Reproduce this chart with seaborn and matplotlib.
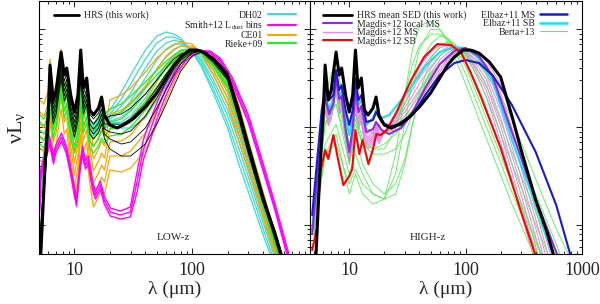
import numpy as np
import matplotlib
matplotlib.use("Agg")
import matplotlib.pyplot as plt
from matplotlib.lines import Line2D
from matplotlib.ticker import FixedLocator, NullFormatter, LogLocator
import seaborn as sns

sns.set_style("ticks")
plt.rcParams['font.family'] = ['Liberation Serif', 'DejaVu Serif']
plt.rcParams['mathtext.fontset'] = 'custom'
plt.rcParams['mathtext.rm'] = 'Liberation Serif'
plt.rcParams['mathtext.it'] = 'Liberation Serif:italic'

# all SED values are log(nu L_nu) with an arbitrary offset, wavelengths in micron
# HRS mean SED (both panels)
hrs_lam = [5.0, 5.2, 5.6, 6.0, 6.2, 6.6, 7.0, 7.7, 8.2, 8.6, 9.3, 10.0, 10.7, 11.3, 11.9, 12.7, 13.5, 14.5, 16.0, 17.0,
           18.0, 20, 23, 27, 32, 40, 50, 60, 70, 80, 95, 110, 130, 160, 200, 250, 300, 400, 500, 600]
hrs_val = [-0.3, 0.04, 0.84, 1.44, 1.89, 1.54, 1.64, 2.02, 1.79, 1.86, 1.59, 1.42, 1.59, 2.04, 1.66, 1.76, 1.44, 1.39, 1.46, 1.57,
           1.39, 1.29, 1.26, 1.30, 1.36, 1.47, 1.61, 1.76, 1.89, 1.97, 2.04, 2.04, 2.01, 1.92, 1.77, 1.38, 1.04, 0.54, 0.22, -0.1]

# shared wavelength grids for template families
mir_lam = [5, 5.5, 6.0, 6.2, 6.6, 7.0, 7.7, 8.2, 8.6, 9.3, 10, 10.7, 11.3, 11.9, 12.7, 13.5, 14.5, 16, 17, 18]
fir_lam = [20, 25, 30, 40, 50, 60, 70, 80, 100, 120, 150, 200, 250, 300, 400, 500, 600, 700]
fir_lam2 = [20, 25, 30, 40, 50, 60, 70, 80, 100, 120, 150, 200, 300, 400, 500, 600, 800, 1000]

# HRS individual galaxies (thin black)
hrs_thin_mir = [0.0, 0.7, 1.35, 1.75, 1.45, 1.55, 1.90, 1.68, 1.75, 1.48, 1.32, 1.48, 1.90, 1.55, 1.65, 1.35, 1.30, 1.36, 1.45, 1.30]
hrs_thin_off = [0.05, 0.0, -0.05, -0.1, -0.15]
hrs_thin_fir = [
    [1.38, 1.40, 1.46, 1.60, 1.74, 1.86, 1.95, 2.00, 2.04, 2.02, 1.92, 1.74, 1.38, 1.04, 0.52, 0.16, -0.14, -0.4],
    [1.30, 1.30, 1.35, 1.50, 1.66, 1.80, 1.90, 1.97, 2.03, 2.02, 1.94, 1.76, 1.40, 1.06, 0.54, 0.18, -0.12, -0.38],
    [1.22, 1.20, 1.23, 1.38, 1.56, 1.72, 1.85, 1.94, 2.02, 2.03, 1.95, 1.78, 1.42, 1.08, 0.56, 0.20, -0.10, -0.36],
    [1.15, 1.10, 1.12, 1.26, 1.46, 1.64, 1.79, 1.90, 2.01, 2.03, 1.96, 1.80, 1.44, 1.10, 0.58, 0.22, -0.08, -0.34],
    [1.05, 0.98, 0.98, 1.10, 1.30, 1.50, 1.68, 1.83, 1.98, 2.02, 1.97, 1.82, 1.46, 1.12, 0.60, 0.24, -0.06, -0.32],
]

# DH02
dh_mir = [0.45, 0.95, 1.25, 1.65, 1.35, 1.45, 1.82, 1.60, 1.65, 1.38, 1.22, 1.38, 1.80, 1.45, 1.55, 1.25, 1.22, 1.30, 1.38, 1.32]
dh_off = [0.08, 0.06, 0.04, 0.02, 0.0, -0.02, -0.04, -0.06]
dh_fir = [
    [1.44, 1.62, 1.79, 2.04, 2.18, 2.22, 2.20, 2.16, 2.02, 1.87, 1.62, 1.26, 0.89, 0.62, 0.19, -0.12, -0.40, -0.65],
    [1.40, 1.55, 1.70, 1.95, 2.11, 2.17, 2.17, 2.14, 2.03, 1.89, 1.66, 1.31, 0.97, 0.70, 0.25, -0.08, -0.35, -0.60],
    [1.37, 1.48, 1.61, 1.86, 2.03, 2.11, 2.14, 2.12, 2.04, 1.92, 1.71, 1.38, 1.05, 0.77, 0.31, -0.03, -0.30, -0.55],
    [1.35, 1.42, 1.53, 1.76, 1.94, 2.05, 2.10, 2.10, 2.05, 1.94, 1.75, 1.44, 1.12, 0.83, 0.36, 0.01, -0.27, -0.50],
    [1.33, 1.37, 1.45, 1.66, 1.85, 1.98, 2.05, 2.08, 2.06, 1.97, 1.80, 1.50, 1.18, 0.88, 0.40, 0.04, -0.24, -0.47],
    [1.31, 1.32, 1.38, 1.56, 1.75, 1.90, 1.99, 2.04, 2.06, 2.00, 1.85, 1.56, 1.24, 0.93, 0.43, 0.06, -0.22, -0.45],
    [1.30, 1.29, 1.31, 1.46, 1.65, 1.80, 1.92, 2.00, 2.05, 2.02, 1.90, 1.61, 1.27, 0.96, 0.45, 0.07, -0.21, -0.44],
    [1.29, 1.26, 1.26, 1.36, 1.54, 1.69, 1.84, 1.94, 2.04, 2.04, 1.94, 1.66, 1.30, 0.98, 0.46, 0.08, -0.20, -0.43],
]

# CE01
ce_mir = [1.30, 1.25, 1.38, 1.70, 1.35, 1.45, 1.80, 1.55, 1.60, 1.20, 0.90, 1.10, 1.55, 1.25, 1.35, 1.05, 0.82, 0.92, 1.00, 0.95]
ce_off = [0.25, 0.13, 0.01, -0.11, -0.23, -0.35]
ce_fir = [
    [1.54, 1.59, 1.66, 1.82, 1.96, 2.04, 2.09, 2.12, 2.10, 2.00, 1.80, 1.50, 1.12, 0.84, 0.37, 0.00, -0.30, -0.55],
    [1.40, 1.44, 1.51, 1.68, 1.85, 1.97, 2.04, 2.08, 2.08, 2.01, 1.84, 1.56, 1.20, 0.92, 0.43, 0.05, -0.25, -0.50],
    [1.26, 1.28, 1.35, 1.53, 1.72, 1.87, 1.97, 2.03, 2.06, 2.02, 1.88, 1.62, 1.28, 0.98, 0.49, 0.10, -0.20, -0.45],
    [1.12, 1.13, 1.19, 1.38, 1.59, 1.76, 1.89, 1.97, 2.04, 2.03, 1.92, 1.68, 1.35, 1.04, 0.54, 0.14, -0.16, -0.42],
    [0.98, 0.98, 1.03, 1.21, 1.44, 1.65, 1.81, 1.92, 2.02, 2.03, 1.95, 1.75, 1.42, 1.09, 0.58, 0.18, -0.12, -0.38],
    [0.84, 0.82, 0.86, 1.04, 1.29, 1.54, 1.72, 1.86, 1.99, 2.02, 1.98, 1.82, 1.48, 1.14, 0.62, 0.22, -0.08, -0.34],
]

# Rieke+09
rk_mir = [1.25, 1.20, 1.30, 1.62, 1.30, 1.42, 1.75, 1.50, 1.58, 1.30, 1.15, 1.28, 1.65, 1.35, 1.45, 1.20, 1.15, 1.22, 1.30, 1.25]
rk_off = [0.15, 0.08, 0.0, -0.07, -0.14]
rk_fir = [
    [1.45, 1.50, 1.58, 1.72, 1.84, 1.93, 1.99, 2.03, 2.05, 2.00, 1.88, 1.66, 1.32, 1.00, 0.48, 0.10, -0.20, -0.45],
    [1.38, 1.42, 1.50, 1.66, 1.79, 1.89, 1.96, 2.01, 2.04, 2.01, 1.90, 1.69, 1.36, 1.03, 0.51, 0.12, -0.18, -0.43],
    [1.32, 1.35, 1.43, 1.60, 1.74, 1.85, 1.93, 1.99, 2.04, 2.02, 1.92, 1.72, 1.39, 1.06, 0.54, 0.15, -0.15, -0.40],
    [1.25, 1.28, 1.36, 1.52, 1.67, 1.80, 1.89, 1.96, 2.03, 2.02, 1.93, 1.74, 1.42, 1.09, 0.57, 0.17, -0.13, -0.38],
    [1.18, 1.20, 1.27, 1.44, 1.60, 1.74, 1.85, 1.93, 2.02, 2.03, 1.95, 1.77, 1.45, 1.12, 0.60, 0.20, -0.10, -0.35],
]

# Smith+12 L_dust bins
smith_lam = [5.0, 5.15, 6.14, 6.64, 6.9, 7.76, 8.55, 9.25, 10.4, 11.2, 11.7, 12.4, 13.1, 14.2, 15.1, 16.6, 17.9, 20.2,
             24.5, 29.8, 34, 38.4, 44, 50.5, 59, 72, 87, 117, 142, 173, 218, 300, 370, 500, 676, 800]
smith_val = [
    [0.36, 0.84, 1.18, 0.98, 1.08, 1.21, 1.08, 0.88, 0.56, 0.93, 1.08, 0.93, 0.98, 0.73, 0.63, 0.73, 0.58, 0.46,
     0.43, 0.47, 0.82, 1.14, 1.34, 1.52, 1.70, 1.88, 1.98, 2.04, 2.01, 1.92, 1.71, 1.31, 0.96, 0.45, -0.12, -0.40],
    [0.30, 0.79, 1.14, 0.94, 1.04, 1.17, 1.04, 0.84, 0.52, 0.89, 1.04, 0.89, 0.94, 0.69, 0.59, 0.69, 0.54, 0.42,
     0.39, 0.42, 0.72, 1.04, 1.24, 1.44, 1.64, 1.84, 1.96, 2.04, 2.02, 1.94, 1.74, 1.35, 1.00, 0.48, -0.08, -0.35],
    [0.24, 0.74, 1.10, 0.90, 1.00, 1.13, 1.00, 0.80, 0.48, 0.85, 1.00, 0.85, 0.90, 0.65, 0.55, 0.65, 0.50, 0.38,
     0.35, 0.37, 0.62, 0.94, 1.14, 1.36, 1.57, 1.79, 1.93, 2.03, 2.03, 1.96, 1.77, 1.39, 1.04, 0.52, -0.04, -0.30],
]

# high-z templates
ez_lam = [4.8, 5.3, 5.8, 6.2, 6.7, 7.3, 7.7, 8.2, 8.6, 9.3, 10, 10.7, 11.3, 12, 12.7, 14, 16, 17, 19, 22,
          28, 35, 45, 60, 80, 100, 130, 170, 250, 400, 600, 800]
elbaz_ms = [0.39, 0.94, 1.44, 1.66, 1.54, 1.59, 1.84, 1.64, 1.69, 1.44, 1.29, 1.44, 1.76, 1.54, 1.59, 1.32, 1.34, 1.42, 1.32, 1.28,
            1.29, 1.39, 1.59, 1.79, 1.91, 1.94, 1.91, 1.79, 1.49, 1.02, 0.49, -0.02]
elbaz_sb = [0.24, 0.84, 1.34, 1.62, 1.44, 1.54, 1.79, 1.59, 1.62, 1.36, 1.19, 1.36, 1.72, 1.49, 1.54, 1.29, 1.36, 1.44, 1.36, 1.39,
            1.54, 1.69, 1.88, 2.02, 2.07, 2.06, 1.96, 1.74, 1.14, 0.49, -0.11, -0.50]
magdis_local = [0.20, 0.75, 1.30, 1.58, 1.40, 1.50, 1.76, 1.55, 1.58, 1.25, 1.02, 1.25, 1.66, 1.42, 1.48, 1.22, 1.25, 1.32, 1.24, 1.20,
                1.26, 1.42, 1.66, 1.90, 2.03, 2.06, 1.98, 1.78, 1.22, 0.55, 0.02, -0.30]

sb_lam = [4.8, 5.3, 5.4, 5.7, 6.2, 6.6, 7.3, 8.0, 8.9, 10.0, 10.6, 11.3, 12.2, 13.0, 14.6, 16.0, 17.1, 18.6, 21, 26,
          34, 44, 57, 75, 92, 111, 136, 200, 300, 400]
magdis_sb = [0.04, 0.27, 0.54, 0.84, 1.04, 0.95, 1.19, 0.95, 0.69, 0.78, 0.85, 1.24, 1.00, 1.14, 0.90, 1.05, 1.20, 1.19, 1.24, 1.44,
             1.74, 1.97, 2.10, 2.09, 2.01, 1.81, 1.57, 1.06, 0.42, -0.02]

# Magdis+12 MS (redshift bins)
mg_mir = [0.3, 0.9, 1.3, 1.55, 1.38, 1.45, 1.72, 1.5, 1.55, 1.22, 1.0, 1.2, 1.6, 1.35, 1.42, 1.2, 1.15, 1.2, 1.28, 1.2]
mg_off = [0.05, 0.02, 0.0, -0.02, -0.04, -0.06, -0.08, -0.10]
mg_fir = [
    [1.22, 1.40, 1.62, 1.88, 2.02, 2.09, 2.10, 2.08, 1.98, 1.82, 1.58, 1.12, 0.40, -0.10, -0.50, -0.80, -1.30, -1.70],
    [1.22, 1.37, 1.56, 1.82, 1.97, 2.06, 2.09, 2.08, 2.00, 1.86, 1.64, 1.20, 0.50, 0.00, -0.40, -0.70, -1.20, -1.60],
    [1.22, 1.34, 1.51, 1.76, 1.92, 2.02, 2.07, 2.08, 2.02, 1.89, 1.70, 1.28, 0.59, 0.08, -0.32, -0.62, -1.10, -1.50],
    [1.22, 1.32, 1.46, 1.70, 1.87, 1.98, 2.04, 2.07, 2.03, 1.92, 1.75, 1.36, 0.68, 0.17, -0.24, -0.55, -1.00, -1.40],
    [1.22, 1.30, 1.42, 1.64, 1.81, 1.94, 2.01, 2.05, 2.04, 1.95, 1.80, 1.44, 0.77, 0.26, -0.16, -0.48, -0.95, -1.35],
    [1.22, 1.28, 1.38, 1.58, 1.76, 1.89, 1.98, 2.03, 2.05, 1.98, 1.85, 1.52, 0.86, 0.35, -0.06, -0.38, -0.85, -1.25],
    [1.22, 1.26, 1.34, 1.53, 1.71, 1.85, 1.95, 2.01, 2.05, 2.01, 1.90, 1.61, 0.96, 0.44, 0.03, -0.30, -0.78, -1.15],
    [1.22, 1.24, 1.30, 1.48, 1.66, 1.82, 1.93, 2.00, 2.05, 2.04, 1.94, 1.70, 1.06, 0.52, 0.12, -0.20, -0.70, -1.05],
]

# Berta+13
berta_lam = [5, 6.2, 7.7, 10, 11.3, 13, 16, 20, 25, 30, 35, 40, 50, 60, 70, 80, 100, 130, 170, 250, 400, 600, 800]
berta_val = [
    [0.3, 1.1, 1.3, 0.8, 1.0, 0.8, 0.6, 0.55, 1.0, 1.6, 2.05, 2.28, 2.33, 2.25, 2.12, 1.98, 1.70, 1.35, 1.00, 0.50, -0.05, -0.6, -1.0],
    [0.2, 1.0, 1.2, 0.6, 0.8, 0.6, 0.5, 0.55, 0.8, 1.3, 1.75, 2.05, 2.25, 2.24, 2.15, 2.04, 1.80, 1.46, 1.12, 0.62, 0.05, -0.5, -0.9],
    [0.5, 1.6, 1.95, 1.2, 1.6, 1.3, 1.2, 1.2, 1.3, 1.5, 1.7, 1.88, 2.10, 2.18, 2.16, 2.10, 1.92, 1.60, 1.26, 0.75, 0.15, -0.35, -0.75],
    [0.4, 1.3, 1.5, 0.9, 1.2, 0.9, 0.7, 0.6, 0.7, 0.95, 1.3, 1.6, 1.95, 2.08, 2.12, 2.10, 2.00, 1.75, 1.42, 0.90, 0.30, -0.2, -0.6],
    [0.3, 1.0, 1.1, 0.7, 0.85, 0.7, 0.6, 0.55, 0.6, 0.9, 1.3, 1.55, 1.85, 1.98, 2.04, 2.05, 2.00, 1.82, 1.55, 1.02, 0.42, -0.08, -0.45],
    [0.5, 1.5, 1.7, 1.1, 1.4, 1.15, 1.05, 1.05, 1.25, 1.6, 1.9, 2.08, 2.20, 2.20, 2.15, 2.07, 1.88, 1.55, 1.20, 0.70, 0.12, -0.35, -0.75],
    [0.4, 1.4, 1.6, 1.05, 1.35, 1.1, 1.0, 1.0, 1.05, 1.2, 1.4, 1.55, 1.78, 1.90, 1.97, 2.01, 2.02, 1.92, 1.70, 1.20, 0.60, 0.10, -0.3],
    [0.4, 1.3, 1.5, 1.0, 1.3, 1.1, 1.05, 1.1, 1.2, 1.35, 1.5, 1.62, 1.80, 1.90, 1.95, 1.97, 1.97, 1.90, 1.74, 1.35, 0.75, 0.25, -0.05],
]

c_dh, c_smith, c_ce, c_rk = '#3fd9cf', '#ff00ff', '#ffa500', '#22ee22'
c_local, c_mms, c_sb = '#8b2be2', '#ee82ee', '#ff0000'
c_ems, c_esb, c_berta = '#1a1acd', '#1ae0f0', '#55ee55'


def sed(ax, lam, val, color, lw):
    sns.lineplot(x=lam, y=val, color=color, lw=lw, ax=ax, estimator=None, sort=False, legend=False)


def family(ax, mir, offs, grid, rows, color, lw):
    for off, row in zip(offs, rows):
        sed(ax, mir_lam + grid, [v + off for v in mir] + row, color, lw)


fig = plt.figure(figsize=(6, 3.04), dpi=100)
ax1 = fig.add_axes([0.065, 0.1645, 0.4517, 0.832])
ax2 = fig.add_axes([0.5167, 0.1645, 0.4533, 0.832])

# low-z panel
family(ax1, dh_mir, dh_off, fir_lam, dh_fir, c_dh, 0.9)
family(ax1, ce_mir, ce_off, fir_lam, ce_fir, c_ce, 0.9)
for row in smith_val:
    sed(ax1, smith_lam, row, c_smith, 1.0)
family(ax1, rk_mir, rk_off, fir_lam, rk_fir, c_rk, 0.9)
family(ax1, hrs_thin_mir, hrs_thin_off, fir_lam, hrs_thin_fir, 'black', 0.6)
sed(ax1, hrs_lam, hrs_val, 'black', 2.2)

# high-z panel
family(ax2, mg_mir, mg_off, fir_lam2, mg_fir, c_mms, 0.7)
for row in berta_val:
    sed(ax2, berta_lam, row, c_berta, 0.6)
sed(ax2, ez_lam, elbaz_sb, c_esb, 1.5)
sed(ax2, ez_lam, magdis_local, c_local, 1.5)
sed(ax2, ez_lam, elbaz_ms, c_ems, 1.5)
sed(ax2, sb_lam, magdis_sb, c_sb, 1.5)
sed(ax2, hrs_lam, hrs_val, 'black', 2.2)

# log(nu L_nu) ticks: one decade = 0.98 units
dec = 0.98
major = [0.29 + dec * n for n in range(-1, 3)]
minor = [0.29 + dec * (n + np.log10(k)) for n in range(-1, 3) for k in range(2, 10)]
for ax, xmin, top_lab in ((ax1, 5, 100), (ax2, 4.6, 1000)):
    ax.set_xscale('log')
    ax.set_xlim(xmin, 1000)
    ax.set_ylim(0, 2.53)
    ax.yaxis.set_major_locator(FixedLocator(major))
    ax.yaxis.set_minor_locator(FixedLocator(minor))
    ax.yaxis.set_major_formatter(NullFormatter())
    ax.xaxis.set_major_locator(LogLocator(base=10))
    ax.xaxis.set_minor_locator(LogLocator(base=10, subs=np.arange(2, 10)))
    ax.xaxis.set_minor_formatter(NullFormatter())
    ax.xaxis.set_major_formatter(plt.FuncFormatter(lambda v, p, t=top_lab: '%d' % v if v <= t else ''))
    ax.tick_params(which='both', direction='in', top=True, right=True, width=0.6, color='black')
    ax.tick_params(which='major', length=4.5)
    ax.tick_params(which='minor', length=2.5)
    ax.tick_params(axis='x', labelsize=13, pad=6)
    for s in ax.spines.values():
        s.set_linewidth(0.8)
        s.set_color('black')
    ax.set_xlabel('λ (μm)', fontsize=14, labelpad=1)
    ax.set_ylabel('')

ax1.set_ylabel(r'$\mathrm{\nu L_{\nu}}$', fontsize=16, labelpad=5)
ax1.text(0.494, 0.067, 'LOW-z', transform=ax1.transAxes, ha='center', va='center', fontsize=8)
ax2.text(0.434, 0.067, 'HIGH-z', transform=ax2.transAxes, ha='center', va='center', fontsize=8)


def h(c, lw):
    return Line2D([], [], color=c, lw=lw)


leg_kw = dict(frameon=False, fontsize=7, borderpad=0, borderaxespad=0, handletextpad=0.5, labelspacing=-0.05)
leg = ax1.legend([h('black', 2.0)], ['HRS (this work)'], loc='upper left', bbox_to_anchor=(0.055, 0.962),
                 handlelength=2.6, **leg_kw)
ax1.add_artist(leg)
ax1.legend([h(c_dh, 1.5), h(c_smith, 1.5), h(c_ce, 1.5), h(c_rk, 1.5)],
           ['DH02', r'Smith+12 L$_{\rm dust}$ bins', 'CE01', 'Rieke+09'],
           loc='upper right', bbox_to_anchor=(0.948, 0.962), markerfirst=False, handlelength=2.9, **leg_kw)

leg = ax2.legend([h('black', 2.0), h(c_local, 1.5), h(c_mms, 1.0), h(c_sb, 1.5)],
                 ['HRS mean SED (this work)', 'Magdis+12 local MS', 'Magdis+12 MS', 'Magdis+12 SB'],
                 loc='upper left', bbox_to_anchor=(0.048, 0.962), handlelength=3.0, **leg_kw)
ax2.add_artist(leg)
ax2.legend([h(c_ems, 1.8), h(c_esb, 1.8), h(c_berta, 0.8)],
           ['Elbaz+11 MS', 'Elbaz+11 SB', 'Berta+13'],
           loc='upper right', bbox_to_anchor=(0.945, 0.962), markerfirst=False, handlelength=2.8, **leg_kw)

fig.savefig('out.png', dpi=100)
